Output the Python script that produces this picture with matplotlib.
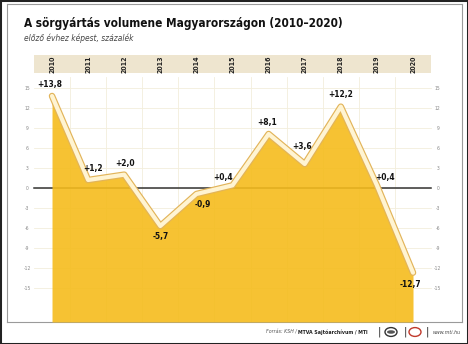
import matplotlib
matplotlib.use("Agg")
import matplotlib.pyplot as plt
import matplotlib.patches as mpatches
import matplotlib.patheffects as pe

plt.rcParams["font.family"] = ["DejaVu Sans"]
plt.rcParams["font.stretch"] = "condensed"

YEARS = [2010, 2011, 2012, 2013, 2014, 2015, 2016, 2017, 2018, 2019, 2020]
VALUES = [13.8, 1.2, 2.0, -5.7, -0.9, 0.4, 8.1, 3.6, 12.2, 0.4, -12.7]
LABELS = ["+13,8", "+1,2", "+2,0", "-5,7", "-0,9", "+0,4", "+8,1", "+3,6", "+12,2", "+0,4", "-12,7"]
# label offsets in pixels from the point
OFFSETS = [(-2, 11), (5, 12), (1, 11), (0, -10), (6, -11), (-9, 8),
           (-1, 11), (-3, 17), (0, 12), (8, 8), (-3, -12)]
YTICKS = [-15, -12, -9, -6, -3, 0, 3, 6, 9, 12, 15]

W, H = 468, 344
fig = plt.figure(figsize=(W / 100, H / 100), dpi=100)
fig.patch.set_facecolor("white")

# outer dark frame
fig.patches.append(mpatches.Rectangle((0, 0), 1, 1, transform=fig.transFigure,
                                      fill=False, edgecolor="#222222", linewidth=2.2))

# panel axes in pixel coords: x 7..462, y 4..322 (from top)
ax = fig.add_axes([7 / W, 1 - 322 / H, 455 / W, 318 / H])
ax.set_xlim(2008.753, 2021.357)
ax.set_ylim(-20.1, 27.6)
for s in ax.spines.values():
    s.set_color("#9a9a9a")
    s.set_linewidth(0.8)
ax.set_xticks([])
ax.set_yticks([])

# faint grid
for v in YTICKS:
    ax.plot([2009.5, 2020.5], [v, v], color="#f3eedc", linewidth=0.6, zorder=1)
for b in range(2010, 2020):
    ax.plot([b + 0.5, b + 0.5], [16.6, -20.1], color="#f3eedc", linewidth=0.6, zorder=1)

# year band
ax.add_patch(mpatches.Rectangle((2009.5, 17.25), 11, 2.7, facecolor="#eee5cf",
                                edgecolor="none", zorder=1))
for yr in YEARS:
    ax.text(yr, 18.6, str(yr), rotation=90, ha="center", va="center",
            fontsize=5, fontweight="bold", color="#222222", zorder=2)

# tick labels both sides
for v in YTICKS:
    ax.text(2009.31, v, str(v), ha="center", va="center", fontsize=3.6,
            color="#888888", zorder=2)
    ax.text(2020.69, v, str(v), ha="center", va="center", fontsize=3.6,
            color="#888888", zorder=2)

# zero line
ax.plot([2009.5, 2020.5], [0, 0], color="#333333", linewidth=1.1, zorder=2)

# beer fill
ax.fill_between(YEARS, VALUES, -20.1, color="#f5bc1d", alpha=0.9,
                linewidth=0, zorder=3)

# foam line
ax.plot(YEARS, VALUES, color="#fff4d2", linewidth=3.0, solid_capstyle="round",
        solid_joinstyle="round", zorder=4,
        path_effects=[pe.Stroke(linewidth=4.7, foreground="#e2b45a"), pe.Normal()])

for yr, v, lab, off in zip(YEARS, VALUES, LABELS, OFFSETS):
    ax.annotate(lab, (yr, v), xytext=off, textcoords="offset pixels",
                ha="center", va="center", fontsize=6, fontweight="bold",
                color="#111111", zorder=5)

# title
fig.text(24 / W, 1 - 23 / H, "A sörgyártás volumene Magyarországon (2010–2020)",
         ha="left", va="center", fontsize=8.5, fontweight="bold", color="#111111")
fig.text(24 / W, 1 - 38 / H, "előző évhez képest, százalék", ha="left",
         va="center", fontsize=6, style="italic", color="#444444")

# footer
fy = 1 - 332 / H
fig.text(461 / W, fy, "www.mti.hu", ha="right", va="center", fontsize=3.8,
         style="italic", color="#444444")
for xp in [379, 405, 427]:
    fig.text(xp / W, fy, "|", ha="center", va="center", fontsize=8, color="#333333")
fig.patches.append(mpatches.Circle((391 / W, fy), 6 / W, transform=fig.transFigure,
                                   fill=False, edgecolor="#333333", linewidth=1.0))
fig.patches.append(mpatches.Ellipse((391 / W, fy), 8 / W, 3.5 / H, transform=fig.transFigure,
                                    facecolor="#555555", edgecolor="none"))
fig.patches.append(mpatches.Circle((415 / W, fy), 6 / W, transform=fig.transFigure,
                                   fill=False, edgecolor="#c0392b", linewidth=1.0))
src = fig.text(368 / W, fy, "MTVA Sajtóarchívum / MTI", ha="right", va="center",
               fontsize=3.8, fontweight="bold", color="#222222")
fig.text(0, 0, "")
ax.annotate("Forrás: KSH / ", xy=(0, 0.5), xycoords=src, ha="right", va="center",
            fontsize=3.8, style="italic", color="#555555", annotation_clip=False)

fig.savefig("out.png", dpi=100)
